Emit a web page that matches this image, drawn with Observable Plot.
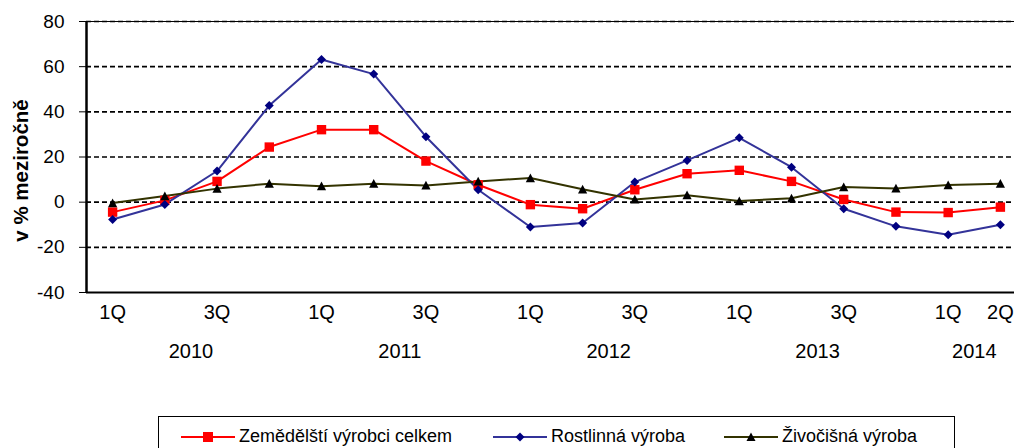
<!DOCTYPE html>
<html>
<head>
<meta charset="utf-8">
<script src="https://cdn.jsdelivr.net/npm/d3@7"></script>
<script src="https://cdn.jsdelivr.net/npm/@observablehq/plot@0.6"></script>
<style>
  html, body { margin: 0; padding: 0; background: #fff; }
  #wrap { position: relative; width: 1014px; height: 448px; overflow: hidden; font-family: "Liberation Sans", Arial, sans-serif; }
  #legend { position: absolute; left: 158px; top: 416px; width: 797px; height: 44px; border: 1.5px solid #000; box-sizing: border-box; }
  .item { position: absolute; top: 9px; display: flex; align-items: center; font-size: 18px; color: #000; white-space: nowrap; }
  .item svg { margin-right: 4px; }
</style>
</head>
<body>
<div id="wrap"></div>
<script>
// ---- data ----
const quarters = ["1Q","2Q","3Q","4Q","1Q","2Q","3Q","4Q","1Q","2Q","3Q","4Q","1Q","2Q","3Q","4Q","1Q","2Q"];
const years = [2010,2010,2010,2010,2011,2011,2011,2011,2012,2012,2012,2012,2013,2013,2013,2013,2014,2014];
const seriesNames = ["Zemědělští výrobci celkem", "Rostlinná výroba", "Živočišná výroba"];
const zemedelsti = [-4.4, 0.8, 9.2, 24.4, 32.1, 32.1, 18.2, 7.7, -1.1, -2.9, 5.5, 12.6, 14.1, 9.2, 1.2, -4.4, -4.6, -2.2];
const rostlinna  = [-7.7, -1.0, 13.8, 42.8, 63.2, 56.7, 29.0, 5.5, -11.0, -9.2, 8.9, 18.5, 28.5, 15.5, -2.9, -10.7, -14.4, -10.0];
const zivocisna  = [-0.4, 2.7, 6.0, 8.2, 7.1, 8.2, 7.4, 9.2, 10.7, 5.7, 1.2, 3.1, 0.5, 1.7, 6.7, 6.1, 7.6, 8.2];
const yTicks = [-40, -20, 0, 20, 40, 60, 80];
const yLabel = "v % meziročně";

// ---- styles ----
const lineColors = ["#FF0000", "#333399", "#333300"];
const markColors = ["#FF0000", "#000080", "#000000"];

const sq = {draw(c, size) { const r = Math.sqrt(size / Math.PI); c.moveTo(-r, -r); c.lineTo(r, -r); c.lineTo(r, r); c.lineTo(-r, r); c.closePath(); }};
const dia = {draw(c, size) { const r = Math.sqrt(size / Math.PI); c.moveTo(0, -r); c.lineTo(r, 0); c.lineTo(0, r); c.lineTo(-r, 0); c.closePath(); }};
const tri = {draw(c, size) { const r = Math.sqrt(size / Math.PI); c.moveTo(0, -r); c.lineTo(r, 0.9 * r); c.lineTo(-r, 0.9 * r); c.closePath(); }};
const symbols = [sq, dia, tri];
const radii = [4.7, 4.5, 4.6];

const allValues = [zemedelsti, rostlinna, zivocisna];
const rows = quarters.map((q, i) => ({i, q, year: years[i]}));

// x tick labels: 1Q and 3Q of each year plus the last quarter
const qTicks = rows.filter((d, i) => d.q === "1Q" || d.q === "3Q" || i === rows.length - 1);
const yearList = Array.from(new Set(years));
const yearPos = yearList.map(y => {
  const idx = rows.filter(d => d.year === y).map(d => d.i);
  return {year: y, i: d3.mean(idx)};
});

const FONT = "'Liberation Sans', Arial, sans-serif";
const marks = [
  Plot.ruleY(yTicks.filter(v => v > -40), {stroke: "#000", strokeWidth: 1.6, strokeDasharray: "5,3"}),
  Plot.ruleY([80], {stroke: "#000", strokeWidth: 1}),
  Plot.ruleY([-40], {stroke: "#000", strokeWidth: 2}),
  Plot.ruleX([-0.5], {stroke: "#000", strokeWidth: 2.5}),
];
allValues.forEach((vals, s) => {
  const data = rows.map(d => ({i: d.i, v: vals[d.i]}));
  marks.push(Plot.line(data, {x: "i", y: "v", stroke: lineColors[s], strokeWidth: 2}));
});
allValues.forEach((vals, s) => {
  const data = rows.map(d => ({i: d.i, v: vals[d.i]}));
  marks.push(Plot.dot(data, {x: "i", y: "v", symbol: symbols[s], r: radii[s], fill: markColors[s], stroke: "none"}));
});
marks.push(Plot.text(yTicks, {y: d => d, text: d => String(d), frameAnchor: "left", dx: -22, textAnchor: "end", fontSize: 19, fill: "#000"}));
marks.push(Plot.text(qTicks, {x: "i", text: "q", frameAnchor: "bottom", dy: 26, fontSize: 20, fill: "#000"}));
marks.push(Plot.text(yearPos, {x: "i", text: d => String(d.year), frameAnchor: "bottom", dy: 65, fontSize: 20, fill: "#000"}));
marks.push(Plot.text([yLabel], {text: d => d, frameAnchor: "left", dx: -65, dy: 13.5, rotate: -90, textAnchor: "middle", lineAnchor: "middle", fontSize: 20.5, fontWeight: "bold", fill: "#000"}));

const chart = Plot.plot({
  width: 1014,
  height: 416,
  marginLeft: 86,
  marginRight: 0,
  marginTop: 21,
  marginBottom: 124,
  style: {fontFamily: FONT, color: "#000", background: "#fff", overflow: "visible"},
  x: {domain: [-0.5, 17.5], range: [86, 1026], axis: null},
  y: {domain: [-40, 80], ticks: yTicks, tickSize: 7, tickPadding: 0, label: null, tickFormat: () => ""},
  marks
});
document.getElementById("wrap").appendChild(chart);

// ---- legend ----
const legend = document.createElement("div");
legend.id = "legend";
const itemLeft = [22, 334, 565];
const shapes = [
  '<rect x="22" y="4" width="10" height="10" fill="#FF0000"/>',
  '<path d="M27,4.5 L31.5,9 L27,13.5 L22.5,9 Z" fill="#000080"/>',
  '<path d="M27,4.5 L31.5,13 L22.5,13 Z" fill="#000"/>'
];
seriesNames.forEach((name, s) => {
  const it = document.createElement("div");
  it.className = "item";
  it.style.left = itemLeft[s] + "px";
  it.innerHTML = `<svg width="54" height="18"><line x1="0" y1="9" x2="54" y2="9" stroke="${lineColors[s]}" stroke-width="2"/>${shapes[s]}</svg>`;
  const span = document.createElement("span");
  span.textContent = name;
  it.appendChild(span);
  legend.appendChild(it);
});
document.getElementById("wrap").appendChild(legend);
</script>
</body>
</html>
